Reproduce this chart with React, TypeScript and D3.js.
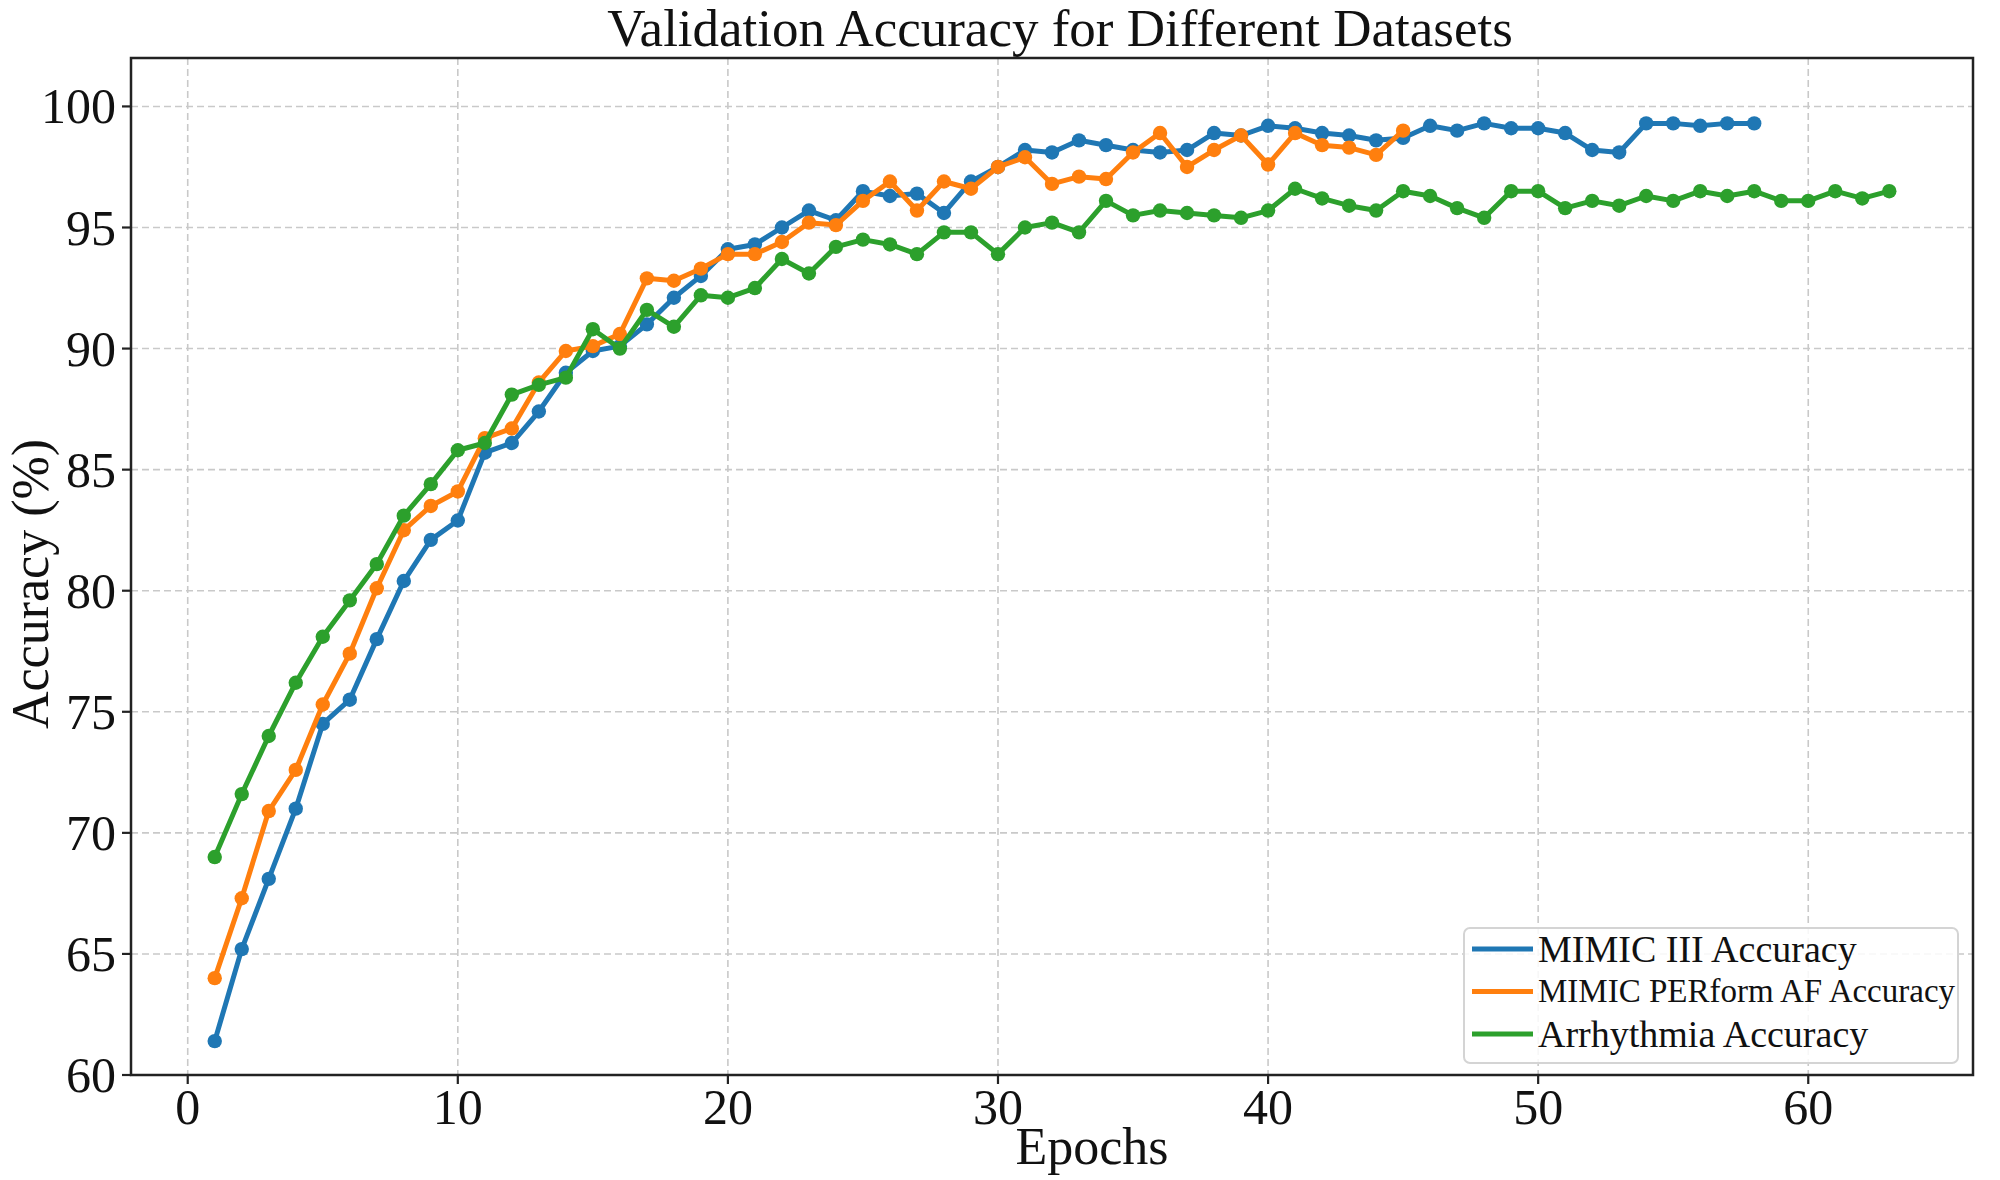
import React from "react";
import * as d3 from "d3";

const mimic3 = [
  61.4, 65.2, 68.1, 71.0, 74.5, 75.5, 78.0, 80.4, 82.1, 82.9,
  85.7, 86.1, 87.4, 89.0, 89.9, 90.1, 91.0, 92.1, 93.0, 94.1,
  94.3, 95.0, 95.7, 95.3, 96.5, 96.3, 96.4, 95.6, 96.9, 97.5,
  98.2, 98.1, 98.6, 98.4, 98.2, 98.1, 98.2, 98.9, 98.8, 99.2,
  99.1, 98.9, 98.8, 98.6, 98.7, 99.2, 99.0, 99.3, 99.1, 99.1,
  98.9, 98.2, 98.1, 99.3, 99.3, 99.2, 99.3, 99.3,
];
const perform = [
  64.0, 67.3, 70.9, 72.6, 75.3, 77.4, 80.1, 82.5, 83.5, 84.1,
  86.3, 86.7, 88.6, 89.9, 90.1, 90.6, 92.9, 92.8, 93.3, 93.9,
  93.9, 94.4, 95.2, 95.1, 96.1, 96.9, 95.7, 96.9, 96.6, 97.5,
  97.9, 96.8, 97.1, 97.0, 98.1, 98.9, 97.5, 98.2, 98.8, 97.6,
  98.9, 98.4, 98.3, 98.0, 99.0,
];
const arrhythmia = [
  69.0, 71.6, 74.0, 76.2, 78.1, 79.6, 81.1, 83.1, 84.4, 85.8,
  86.1, 88.1, 88.5, 88.8, 90.8, 90.0, 91.6, 90.9, 92.2, 92.1,
  92.5, 93.7, 93.1, 94.2, 94.5, 94.3, 93.9, 94.8, 94.8, 93.9,
  95.0, 95.2, 94.8, 96.1, 95.5, 95.7, 95.6, 95.5, 95.4, 95.7,
  96.6, 96.2, 95.9, 95.7, 96.5, 96.3, 95.8, 95.4, 96.5, 96.5,
  95.8, 96.1, 95.9, 96.3, 96.1, 96.5, 96.3, 96.5, 96.1, 96.1,
  96.5, 96.2, 96.5,
];
const seriesNames = ["MIMIC III Accuracy", "MIMIC PERform AF Accuracy", "Arrhythmia Accuracy"];
const seriesColors = ["#1f77b4", "#ff7f0e", "#2ca02c"];
const xTicks = [0, 10, 20, 30, 40, 50, 60];
const yTicks = [60, 65, 70, 75, 80, 85, 90, 95, 100];
const title = "Validation Accuracy for Different Datasets";
const xLabel = "Epochs";
const yLabel = "Accuracy (%)";

const W = 2000;
const H = 1180;
const left = 131, right = 1973, top = 58, bottom = 1075;
const font = "'Liberation Serif', 'Times New Roman', serif";

export default function App() {
  const x = d3.scaleLinear().domain([-2.1, 66.1]).range([left, right]);
  const y = d3.scaleLinear().domain([60, 102]).range([bottom, top]);
  const all = [mimic3, perform, arrhythmia];
  const line = d3
    .line<number>()
    .x((_, i) => x(i + 1))
    .y((d) => y(d));
  const legendFont = [38, 33, 38];
  const lx = 1464, ly = 928, lw = 494, lh = 135;

  return (
    <svg
      width={W}
      height={H}
      style={{ position: "absolute", left: 0, top: 0, background: "#fff" }}
      fontFamily={font}
    >
      <rect x={0} y={0} width={W} height={H} fill="#fff" />
      <defs>
        <clipPath id="plotclip">
          <rect x={left} y={top} width={right - left} height={bottom - top} />
        </clipPath>
      </defs>
      {/* grid */}
      <g stroke="#c9c9c9" strokeWidth={1.6} strokeDasharray="7,4">
        {xTicks.map((t) => (
          <line key={"gx" + t} x1={x(t)} x2={x(t)} y1={top} y2={bottom} />
        ))}
        {yTicks.map((t) => (
          <line key={"gy" + t} x1={left} x2={right} y1={y(t)} y2={y(t)} />
        ))}
      </g>
      {/* series */}
      <g clipPath="url(#plotclip)">
        {all.map((s, k) => (
          <g key={k}>
            <path d={line(s) || ""} fill="none" stroke={seriesColors[k]} strokeWidth={5} strokeLinejoin="round" />
            {s.map((v, i) => (
              <circle key={i} cx={x(i + 1)} cy={y(v)} r={7.2} fill={seriesColors[k]} />
            ))}
          </g>
        ))}
      </g>
      {/* frame */}
      <rect x={left} y={top} width={right - left} height={bottom - top} fill="none" stroke="#222" strokeWidth={2.5} />
      {/* x ticks */}
      {xTicks.map((t) => (
        <g key={"xt" + t}>
          <line x1={x(t)} x2={x(t)} y1={bottom} y2={bottom + 9} stroke="#222" strokeWidth={2.2} />
          <text x={x(t)} y={1124} textAnchor="middle" fontSize={50} fill="#111">
            {t}
          </text>
        </g>
      ))}
      {/* y ticks */}
      {yTicks.map((t) => (
        <g key={"yt" + t}>
          <line x1={left - 9} x2={left} y1={y(t)} y2={y(t)} stroke="#222" strokeWidth={2.2} />
          <text x={116} y={y(t) + 17} textAnchor="end" fontSize={50} fill="#111">
            {t}
          </text>
        </g>
      ))}
      {/* titles */}
      <text x={1060} y={46} textAnchor="middle" fontSize={53} fill="#111">
        {title}
      </text>
      <text x={1092} y={1164} textAnchor="middle" fontSize={52} fill="#111">
        {xLabel}
      </text>
      <text transform="translate(48,584) rotate(-90)" textAnchor="middle" fontSize={52} fill="#111">
        {yLabel}
      </text>
      {/* legend */}
      <rect x={lx} y={ly} width={lw} height={lh} rx={6} fill="#fff" fillOpacity={0.85} stroke="#d4d4d4" strokeWidth={2} />
      {seriesNames.map((n, k) => {
        const cy = ly + 21 + k * 42.5;
        return (
          <g key={n}>
            <line x1={lx + 8} x2={lx + 69} y1={cy} y2={cy} stroke={seriesColors[k]} strokeWidth={5} />
            <text x={lx + 74} y={cy + legendFont[k] * 0.33} fontSize={legendFont[k]} fill="#111">
              {n}
            </text>
          </g>
        );
      })}
    </svg>
  );
}
